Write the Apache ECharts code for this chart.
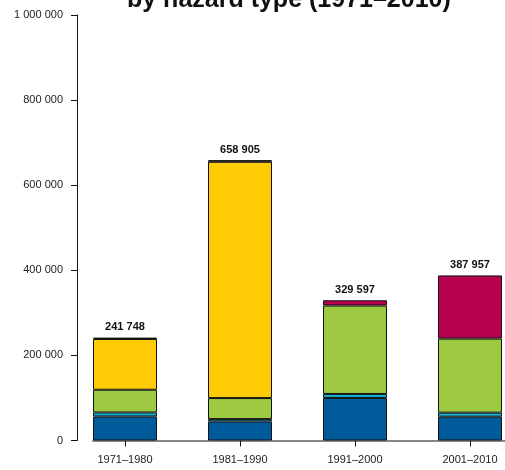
<!DOCTYPE html>
<html>
<head>
<meta charset="utf-8">
<script src="https://cdn.jsdelivr.net/npm/echarts@6/dist/echarts.min.js"></script>
<style>
    html, body { margin: 0; padding: 0; background: #fff; }
    #chart { width: 505px; height: 470px; }
</style>
</head>
<body>
<div id="chart"></div>
<script>
// 年代
const decades = ['1971–1980', '1981–1990', '1991–2000', '2001–2010']
const totals = [241748, 658905, 329597, 387957]
// 各灾害类型 (自下而上)
const floods = [56500, 44700, 100000, 56000]
const massMovement = [9400, 5600, 9400, 9400]
const storms = [53400, 49400, 207800, 174100]
const drought = [119300, 555300, '-', '-']
const extremeTemp = [3148, 3905, 12397, 148457]
const yTicks = [0, 200000, 400000, 600000, 800000, 1000000]

const fmtNum = (v) => String(v).replace(/\B(?=(\d{3})+(?!\d))/g, ' ')

const myChart = echarts.init(document.getElementById('chart'))
const barStyle = (color) => ({
    color: color,
    borderColor: '#111',
    borderWidth: 1
})
const option = {
    animation: false,
    title: {
        text: 'by hazard type (1971–2010)',
        left: 122,
        top: -17,
        textStyle: {
            fontFamily: 'Liberation Sans',
            fontWeight: 'bold',
            fontSize: 25,
            color: '#111'
        }
    },
    grid: [
        { left: 67.5, width: 460, top: 15, bottom: 29.5, outerBoundsMode: 'none', containLabel: false },
        // 只用来画灰色的横轴线
        { left: 93, right: 0, top: 15, bottom: 29.5, outerBoundsMode: 'none', containLabel: false }
    ],
    xAxis: [
        {
            type: 'category',
            gridIndex: 0,
            data: decades,
            axisLine: { show: false },
            axisTick: { show: true, alignWithLabel: true, length: 6, lineStyle: { color: '#111' } },
            axisLabel: {
                margin: 14,
                fontFamily: 'Liberation Sans',
                fontSize: 11,
                color: '#222'
            }
        },
        {
            type: 'value',
            gridIndex: 1,
            min: 0,
            max: 1,
            axisLine: { show: true, lineStyle: { color: '#888', width: 2 } },
            axisTick: { show: false },
            axisLabel: { show: false },
            splitLine: { show: false }
        }
    ],
    yAxis: [
        {
            type: 'value',
            gridIndex: 0,
            min: yTicks[0],
            max: yTicks[yTicks.length - 1],
            interval: 200000,
            offset: -9.5,
            axisLine: { show: true, lineStyle: { color: '#111' } },
            axisTick: { show: true, length: 6, lineStyle: { color: '#111' } },
            splitLine: { show: false },
            axisLabel: {
                margin: 14,
                fontFamily: 'Liberation Sans',
                fontSize: 11,
                color: '#222',
                formatter: (v) => fmtNum(v)
            }
        },
        {
            type: 'value',
            gridIndex: 1,
            show: false,
            min: 0,
            max: 1
        }
    ],
    series: [
        { name: 'Floods', type: 'bar', stack: 'all', barWidth: 64, data: floods, itemStyle: barStyle('#005b9b') },
        { name: 'Mass movement', type: 'bar', stack: 'all', barWidth: 64, data: massMovement, itemStyle: barStyle('#14b3d6') },
        { name: 'Storms', type: 'bar', stack: 'all', barWidth: 64, data: storms, itemStyle: barStyle('#9dca40') },
        { name: 'Drought', type: 'bar', stack: 'all', barWidth: 64, data: drought, itemStyle: barStyle('#ffcb05') },
        {
            name: 'Extreme temperature',
            type: 'bar',
            stack: 'all',
            barWidth: 64,
            data: extremeTemp,
            itemStyle: barStyle('#b9004f'),
            label: {
                show: true,
                position: 'top',
                distance: 5,
                fontFamily: 'Liberation Sans',
                fontWeight: 'bold',
                fontSize: 11,
                color: '#111',
                formatter: (p) => fmtNum(totals[p.dataIndex])
            }
        }
    ]
}
myChart.setOption(option)
</script>
</body>
</html>
